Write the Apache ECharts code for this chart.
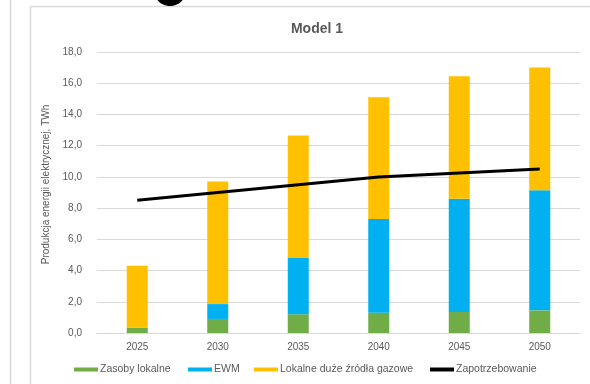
<!DOCTYPE html>
<html>
<head>
<meta charset="utf-8">
<script src="https://cdn.jsdelivr.net/npm/echarts@6/dist/echarts.min.js"></script>
<style>
  html, body { margin: 0; padding: 0; background: #fff; }
  #chart { width: 590px; height: 384px; }
</style>
</head>
<body>
<div id="chart"></div>
<script>
// Electricity production by source, TWh
const years = ['2025', '2030', '2035', '2040', '2045', '2050'];
const zasobyLokalne = [0.35, 0.9, 1.2, 1.3, 1.35, 1.45];
const ewm = [0, 0.95, 3.6, 6.0, 7.25, 7.7];
const gazowe = [3.95, 7.85, 7.85, 7.8, 7.85, 7.85];
const zapotrzebowanie = [8.5, 9.0, 9.5, 10.0, 10.25, 10.5];

const seriesNames = ['Zasoby lokalne', 'EWM', 'Lokalne duże źródła gazowe', 'Zapotrzebowanie'];
const legendLeft = [74, 188, 254, 430];
const txt = '#595959';
const font = 'Liberation Sans, Arial, sans-serif';

// one legend block per entry so each key sits at its own x
const legends = seriesNames.map((name, i) => ({
  data: [name],
  top: 364,
  left: legendLeft[i],
  itemWidth: 24,
  itemHeight: 4,
  icon: 'rect',
  padding: 0,
  textStyle: { fontSize: 10.5, color: txt, padding: [0, 0, 0, -3] }
}));

const chart = echarts.init(document.getElementById('chart'));
chart.setOption({
  backgroundColor: '#fff',
  animation: false,
  textStyle: { fontFamily: font },
  title: {
    text: 'Model 1',
    left: 312,
    top: 17,
    textAlign: 'center',
    textStyle: { fontSize: 14, fontWeight: 'bold', color: txt, fontFamily: font }
  },
  graphic: [
    { type: 'line', shape: { x1: 10.5, y1: 0, x2: 10.5, y2: 384 }, style: { stroke: '#d9d9d9', lineWidth: 1.5 } },
    { type: 'polyline', shape: { points: [[30.5, 390], [30.5, 6.5], [600, 6.5]] }, style: { stroke: '#d9d9d9', lineWidth: 1.5, fill: null } },
    { type: 'ellipse', shape: { cx: 170, cy: -7, rx: 15, ry: 13 }, style: { fill: '#000' } }
  ],
  legend: legends,
  grid: { left: 97, right: 10, top: 52, bottom: 51 },
  xAxis: {
    type: 'category',
    data: years,
    axisLine: { lineStyle: { color: '#d9d9d9' } },
    axisTick: { show: false },
    axisLabel: { color: txt, fontSize: 10, margin: 9 }
  },
  yAxis: {
    type: 'value',
    min: 0,
    max: 18,
    interval: 2,
    name: 'Produkcja energii elektrycznej, TWh',
    nameLocation: 'middle',
    nameGap: 38,
    nameTextStyle: { color: txt, fontSize: 10, padding: [0, 0, 0, 16] },
    axisLine: { show: false },
    axisTick: { show: false },
    splitLine: { lineStyle: { color: '#d9d9d9', width: 1 } },
    axisLabel: {
      color: txt, fontSize: 10, margin: 15,
      formatter: v => v.toFixed(1).replace('.', ',')
    }
  },
  series: [
    { name: seriesNames[0], type: 'bar', stack: 'p', barWidth: 21, data: zasobyLokalne, itemStyle: { color: '#70ad47' } },
    { name: seriesNames[1], type: 'bar', stack: 'p', barWidth: 21, data: ewm, itemStyle: { color: '#00b0f0' } },
    { name: seriesNames[2], type: 'bar', stack: 'p', barWidth: 21, data: gazowe, itemStyle: { color: '#ffc000' } },
    { name: seriesNames[3], type: 'line', data: zapotrzebowanie, showSymbol: false, symbol: 'none',
      lineStyle: { color: '#000', width: 3 }, itemStyle: { color: '#000' }, z: 5 }
  ]
});
</script>
</body>
</html>
